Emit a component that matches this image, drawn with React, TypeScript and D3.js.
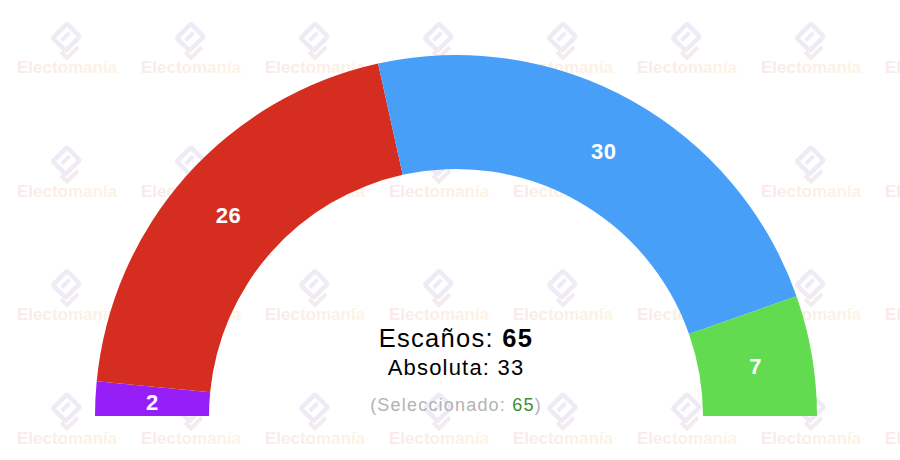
import React from 'react';
import * as d3 from 'd3';

const seats = [2, 26, 30, 7];
const partyColors = ['#961ef7', '#d52e20', '#479ff8', '#63db51'];
const totalSeats = 65;
const majority = 33;
const selected = 65;

const width = 900;
const height = 460;
const cx = 456;
const cy = 416;
const outerR = 361;
const innerR = 247;

const wmCols = d3.range(0, 8);
const wmRows = d3.range(0, 4);

function Watermark({ x, y }: { x: number; y: number }) {
  return (
    <g transform={`translate(${x},${y})`}>
      <g transform="translate(0,-35) rotate(-45)" fill="none" stroke="#efebf6" strokeWidth={4.5}>
        <rect x={-10} y={-10} width={20} height={18} rx={1.5} />
        <rect x={-5.5} y={-4} width={11} height={4} fill="#efebf6" stroke="none" />
      </g>
      <path d="M-6,-21 L0,-15 L11,-26" fill="none" stroke="#f4ebee" strokeWidth={4} />
      <text
        x={0}
        y={0}
        textAnchor="middle"
        fontWeight="bold"
        fontSize={17}
        fill="url(#wmGrad)"
      >
        Electomanía
      </text>
    </g>
  );
}

export default function App() {
  const pie = d3
    .pie<number>()
    .sort(null)
    .value(d => d)
    .startAngle(-Math.PI / 2)
    .endAngle(Math.PI / 2);
  const arc = d3.arc<d3.PieArcDatum<number>>().innerRadius(innerR).outerRadius(outerR);
  const arcs = pie(seats);

  return (
    <svg
      width={width}
      height={height}
      style={{ position: 'absolute', left: 0, top: 0, background: '#fff' }}
      fontFamily="Liberation Sans, Arial, sans-serif"
    >
      <defs>
        <linearGradient id="wmGrad" x1="0" x2="1" y1="0" y2="0">
          <stop offset="0" stopColor="#f9eaea" />
          <stop offset="1" stopColor="#fdf3e3" />
        </linearGradient>
      </defs>
      {wmRows.map(r =>
        wmCols.map(c => <Watermark key={`${r}-${c}`} x={67 + c * 124} y={73 + r * 123.5} />)
      )}
      <g transform={`translate(${cx},${cy})`}>
        {arcs.map((a, i) => (
          <path key={i} d={arc(a) || ''} fill={partyColors[i]} />
        ))}
        {arcs.map((a, i) => {
          const [lx, ly] = arc.centroid(a);
          return (
            <text
              key={`l${i}`}
              x={lx}
              y={ly}
              dy="0.4em"
              textAnchor="middle"
              fill="#fff"
              fontWeight="bold"
              fontSize={22}
              letterSpacing={0.5}
            >
              {a.data}
            </text>
          );
        })}
        <text x={0} y={-69} textAnchor="middle" fontSize={25.5} fill="#000" letterSpacing={1.3}>
          Escaños: <tspan fontWeight="bold">{totalSeats}</tspan>
        </text>
        <text x={0} y={-41} textAnchor="middle" fontSize={22} fill="#000" letterSpacing={1.2}>
          Absoluta: {majority}
        </text>
        <text x={0} y={-5} textAnchor="middle" fontSize={18} fill="#b3b3b3" letterSpacing={1.2}>
          (Seleccionado: <tspan fill="#3d8e33">{selected}</tspan>)
        </text>
      </g>
    </svg>
  );
}
